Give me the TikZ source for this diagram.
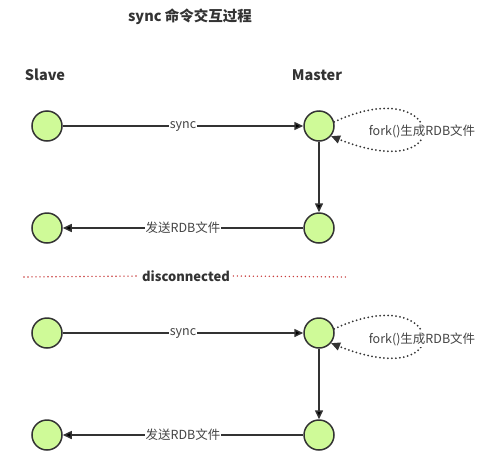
\documentclass[tikz,border=0pt]{standalone}
\usepackage{fontspec}
\setmainfont{Noto Sans CJK SC}
\usetikzlibrary{arrows.meta}
\definecolor{nodegreen}{RGB}{207,250,152}
\definecolor{edgegray}{RGB}{51,51,51}
\definecolor{textgray}{RGB}{68,68,68}
\definecolor{cutred}{RGB}{200,60,60}

\begin{document}
\begin{tikzpicture}[x=1pt,y=-1pt,>={Triangle[length=9pt,width=8pt]},
    peer/.style={circle,draw=edgegray,fill=nodegreen,line width=1.5pt,minimum size=30pt,inner sep=0pt},
    lbl/.style={fill=white,text=textgray,font=\fontsize{12.5}{14}\selectfont,inner sep=1pt},
    head/.style={text=edgegray,font=\fontsize{14.5}{16}\selectfont\bfseries},
    link/.style={draw=edgegray,line width=1.5pt},
    dots/.style={line width=2pt,line cap=round,dash pattern=on 0pt off 4pt}]
    \useasboundingbox (0,0) rectangle (487,461);

    \node[head] (title) at (190,17) {sync 命令交互过程};
    \node[head] (slave) at (45,75) {Slave};
    \node[head] (master) at (317,75) {Master};

    \node[peer] (s1) at (47,126) {};
    \node[peer] (m1) at (319,126) {};
    \node[peer] (m2) at (319,228) {};
    \node[peer] (s2) at (47,228) {};

    \node[peer] (s3) at (47,333) {};
    \node[peer] (m3) at (319,333) {};
    \node[peer] (m4) at (319,435) {};
    \node[peer] (s4) at (47,435) {};

    \path[->,link] (s1) edge node[lbl] {sync} (m1);
    \path[->,link] (m1) edge (m2);
    \path[->,link] (m2) edge node[lbl] {发送RDB文件} (s2);
    \draw[->,link,dots] (m1.15) .. controls (445,70) and (460,188) .. (m1.-40);
    \node[lbl] (fork1) at (422,131) {fork()生成RDB文件};

    % disconnected
    \node[head,font=\fontsize{13}{15}\selectfont\bfseries] (cut) at (186,276) {disconnected};
    \coordinate (cutl) at (24,277);
    \coordinate (cutr) at (346,277);
    \draw[cutred,dots,line width=1.6pt] (cutl) -- (cut.west);
    \draw[cutred,dots,line width=1.6pt] (cut.east) -- (cutr);

    \path[->,link] (s3) edge node[lbl] {sync} (m3);
    \path[->,link] (m3) edge (m4);
    \path[->,link] (m4) edge node[lbl] {发送RDB文件} (s4);
    \draw[->,link,dots] (m3.15) .. controls (445,277) and (460,395) .. (m3.-40);
    \node[lbl] (fork2) at (422,339) {fork()生成RDB文件};
\end{tikzpicture}
\end{document}
